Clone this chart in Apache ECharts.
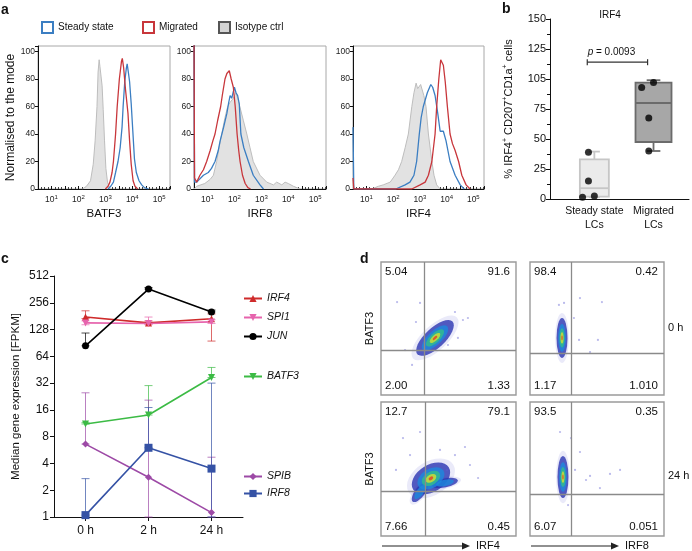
<!DOCTYPE html>
<html>
<head>
<meta charset="utf-8">
<script src="https://cdn.jsdelivr.net/npm/echarts@6/dist/echarts.min.js"></script>
<style>
  html, body { margin: 0; padding: 0; background: #fff; }
  #chart { width: 692px; height: 551px; }
</style>
</head>
<body>
<div id="chart"></div>
<script>
// ---- a: flow histograms, x = log10 fluorescence, y = % of mode
const histMarkers = ['BATF3', 'IRF8', 'IRF4'];
const isoBATF3 = [[2.15,0],[2.3,2],[2.45,6],[2.55,18],[2.62,35],[2.69,60],[2.73,85],[2.77,94],[2.8,89],[2.84,88],[2.88,75],[2.92,58],[2.97,35],[3.02,15],[3.08,5],[3.17,0]];
const steadyBATF3 = [[3.1,0],[3.2,2],[3.3,5],[3.38,12],[3.47,20],[3.55,30],[3.62,45],[3.66,60],[3.72,78],[3.78,88],[3.81,91],[3.86,84],[3.9,78],[3.96,62],[4.02,42],[4.08,22],[4.15,12],[4.25,6],[4.35,3],[4.45,1],[4.6,0]];
const migratedBATF3 = [[3.0,0],[3.1,2],[3.17,5],[3.25,12],[3.3,20],[3.38,40],[3.44,60],[3.52,80],[3.6,93],[3.63,95],[3.68,88],[3.75,72],[3.84,55],[3.9,35],[3.96,18],[4.03,6],[4.1,2],[4.2,0]];
const isoIRF8 = [[0.5,0],[0.6,2],[0.9,4],[1.1,7],[1.22,10],[1.34,20],[1.45,32],[1.53,40],[1.65,52],[1.75,60],[1.84,63],[1.96,66],[2.05,70],[2.12,66],[2.2,60],[2.33,50],[2.46,40],[2.58,30],[2.7,20],[2.95,10],[3.2,5],[3.45,3],[3.57,5],[3.76,3],[3.88,5],[4.0,4],[4.19,2],[4.44,0]];
const steadyIRF8 = [[0.5,110],[0.52,5],[0.6,5],[0.85,10],[1.03,12],[1.15,15],[1.28,20],[1.4,28],[1.47,35],[1.6,45],[1.72,55],[1.78,62],[1.84,68],[1.9,66],[2.0,74],[2.06,70],[2.12,68],[2.18,62],[2.24,40],[2.35,30],[2.52,20],[2.7,10],[2.95,3],[3.08,0]];
const migratedIRF8 = [[0.5,110],[0.52,8],[0.6,5],[0.72,10],[0.85,14],[0.97,20],[1.1,28],[1.2,35],[1.28,40],[1.38,50],[1.49,60],[1.55,68],[1.65,80],[1.72,84],[1.81,86],[1.88,80],[1.96,74],[2.03,60],[2.1,40],[2.16,28],[2.21,20],[2.3,10],[2.4,4],[2.5,1],[2.6,0]];
const isoIRF4 = [[1.2,0],[1.45,2],[1.63,3],[1.89,5],[2.0,8],[2.07,10],[2.2,14],[2.32,20],[2.45,30],[2.57,40],[2.7,60],[2.78,70],[2.86,77],[2.92,73],[2.97,72],[3.03,76],[3.07,75],[3.15,68],[3.23,60],[3.32,40],[3.45,20],[3.53,10],[3.63,3],[3.76,0]];
const steadyIRF4 = [[0.5,45],[0.53,0],[2.1,0],[2.14,1],[2.45,3],[2.63,5],[2.78,10],[2.88,20],[2.98,40],[3.05,52],[3.13,60],[3.28,70],[3.41,76],[3.48,74],[3.57,68],[3.67,55],[3.76,42],[3.82,43],[3.88,42],[3.98,35],[4.13,20],[4.32,10],[4.51,3],[4.66,0]];
const migratedIRF4 = [[0.5,8],[0.53,0],[2.7,0],[2.76,1],[3.01,3],[3.2,5],[3.32,10],[3.45,20],[3.57,40],[3.63,60],[3.71,80],[3.78,94],[3.83,92],[3.88,90],[3.95,78],[4.03,60],[4.13,40],[4.22,33],[4.32,28],[4.45,20],[4.57,10],[4.73,3],[4.88,0]];

// ---- b: IRF4+ percentages
const boxLabels = ['Steady state\nLCs', 'Migrated\nLCs'];
const steadyBox = [1.5, 2, 9, 33, 39.5];   // min, q1, median, q3, max
const migratedBox = [40, 47.5, 80, 97, 99];
const steadyDots = [[0.8, 1.5], [1.0, 2.5], [0.9, 15], [0.9, 39]];
const migratedDots = [[1.8, 93], [2.0, 97], [1.92, 67.5], [1.92, 40]];
const pBracket = [0.88, 1.9, 114];
const pLabel = '{i|p} = 0.0093';

// ---- c: median FPKM over time
const timePoints = ['0 h', '2 h', '24 h'];
const irf4Med = [177, 152, 169],  irf4Lo = [170, 148, 95],  irf4Hi = [208, 160, 192];
const spi1Med = [152, 150, 156],  spi1Lo = [145, 145, 150], spi1Hi = [160, 177, 165];
const junMed = [84, 365, 202],    junLo = [84, 365, 202],   junHi = [117, 380, 212];
const batf3Med = [11.1, 14, 37],  batf3Lo = [11.1, 14, 37], batf3Hi = [11.5, 30, 48];
const spibMed = [6.6, 2.8, 1.12], spibLo = [6.6, 1, 1],     spibHi = [24.9, 20.6, 4.7];
const irf8Med = [1.05, 6, 3.5],   irf8Lo = [1.05, 6, 1],    irf8Hi = [2.7, 17, 32];

// ---- d: BATF3 vs IRF4 / IRF8 density plots (display units 0-100)
const quadrantValues = [
  ['5.04', '91.6', '2.00', '1.33'],
  ['98.4', '0.42', '1.17', '1.010'],
  ['12.7', '79.1', '7.66', '0.45'],
  ['93.5', '0.35', '6.07', '0.051']
];
const gateX = [32, 30.6, 32.6, 30.6];
const gateY = [34, 31.6, 33.6, 31.3];
const cloud0hIRF4 = [[40, 42.9]];
const cloud0hIRF8 = [[23.9, 42.9]];
const cloud24hIRF4 = [[37, 43], [28.9, 32.8], [47.4, 39.6]];
const cloud24hIRF8 = [[24.6, 44]];
const sparse0hIRF4 = [[11.9,69.9],[28.9,69.2],[60.7,56.4],[54.8,62.4],[64.4,57.9],[25.9,54.9],[23,22.6],[49.6,37.6],[57,42.9],[17.8,33.8]];
const sparse0hIRF8 = [[37.3,72.9],[53.7,69.9],[50.7,41.4],[36.6,41.4],[25.4,69.2],[32.8,57.9],[21.6,67.7],[44.8,32.3]];
const sparse24hIRF4 = [[16.3,73.1],[28.9,77.6],[62.2,66.4],[71.9,43.3],[43.7,64.2],[54.8,60.4],[21.5,60.4],[65.9,53],[11.1,49.3],[48.9,49.3]];
const sparse24hIRF8 = [[22.4,77.6],[30.6,73.1],[37.3,62.7],[44.8,44.8],[59.7,46.3],[52.2,35.8],[41.8,41.8],[67.2,49.3],[33.6,49.3],[28.4,23.1]];

// ------------------------------------------------------------------
const FONT = '"Liberation Sans", Arial, Helvetica, sans-serif';
const STEADY = '#3b7ec2', MIGRATED = '#c8363b', ISO_FILL = '#e2e2e2', ISO_LINE = '#bdbdbd';
const ELLIPSE = 'path://M0,50A50,50,0,1,1,100,50A50,50,0,1,1,0,50Z';

const histGrids = [
  { left: 38, top: 46, width: 132, height: 143 },
  { left: 194, top: 46, width: 132, height: 143 },
  { left: 353, top: 46, width: 131, height: 143 }
];
const boxGrid = { left: 550, top: 19, width: 142, height: 180 };
const lineGrid = { left: 54, top: 276, width: 189, height: 241 };
const dGrids = [
  { left: 381, top: 262, width: 135, height: 133 },
  { left: 530, top: 262, width: 134, height: 133 },
  { left: 381, top: 402, width: 135, height: 134 },
  { left: 530, top: 402, width: 134, height: 134 }
];

const histSets = [
  [isoBATF3, steadyBATF3, migratedBATF3],
  [isoIRF8, steadyIRF8, migratedIRF8],
  [isoIRF4, steadyIRF4, migratedIRF4]
];

const geneRows = [
  { name: 'IRF4', med: irf4Med, lo: irf4Lo, hi: irf4Hi, color: '#cf2b2b', symbol: 'triangle', rot: 0 },
  { name: 'SPI1', med: spi1Med, lo: spi1Lo, hi: spi1Hi, color: '#e664ad', symbol: 'triangle', rot: 180 },
  { name: 'JUN', med: junMed, lo: junLo, hi: junHi, color: '#000000', symbol: 'circle', rot: 0 },
  { name: 'BATF3', med: batf3Med, lo: batf3Lo, hi: batf3Hi, color: '#3cbb45', symbol: 'triangle', rot: 180 },
  { name: 'SPIB', med: spibMed, lo: spibLo, hi: spibHi, color: '#9d4aa6', symbol: 'diamond', rot: 0 },
  { name: 'IRF8', med: irf8Med, lo: irf8Lo, hi: irf8Hi, color: '#3552a5', symbol: 'rect', rot: 0 }
];

const dPlots = [
  { cloud: cloud0hIRF4, sparse: sparse0hIRF4, shapes: [{ w: 48, h: 20, rot: 43, top: 5 }] },
  { cloud: cloud0hIRF8, sparse: sparse0hIRF8, shapes: [{ w: 11, h: 40, rot: 0, top: 5 }] },
  { cloud: cloud24hIRF4, sparse: sparse24hIRF4, shapes: [{ w: 42, h: 27, rot: 32, top: 5 }, { w: 24, h: 10, rot: 53, top: 2 }, { w: 26, h: 9, rot: 12, top: 2 }] },
  { cloud: cloud24hIRF8, sparse: sparse24hIRF8, shapes: [{ w: 11, h: 42, rot: 0, top: 5 }] }
];
const levelScale = [1.25, 1.0, 0.7, 0.48, 0.28, 0.12];
const levelColors = ['rgba(90,90,210,0.16)', '#2a34b2', '#1d88dc', '#33be8a', '#d6e030', '#e43c24'];

const noSplit = { show: false };
const blackLine = { show: true, lineStyle: { color: '#111', width: 1 } };
const isDecade = v => Math.abs(v - Math.round(v)) < 1e-6 && v >= 1;

const grids = [];
const xAxes = [];
const yAxes = [];
const series = [];

// ---- a
histGrids.forEach((g, i) => {
  grids.push(Object.assign({ show: true, borderColor: '#a8a8a8', borderWidth: 1, containLabel: false }, g));
  xAxes.push({
    gridIndex: i, type: 'value', min: 0.5, max: 5.4, interval: 0.5,
    axisLine: blackLine,
    axisTick: { show: true, inside: true, length: 3, lineStyle: { color: '#111' } },
    minorTick: { show: true, splitNumber: 4, length: 2, lineStyle: { color: '#444' } },
    splitLine: noSplit, minorSplitLine: noSplit,
    axisLabel: {
      fontSize: 8.5, color: '#222', margin: 5, fontFamily: FONT,
      formatter: v => isDecade(v) ? '10{s|' + Math.round(v) + '}' : '',
      rich: { s: { fontSize: 6, padding: [0, 0, 5, 0], color: '#222', fontFamily: FONT } }
    },
    name: histMarkers[i], nameLocation: 'middle', nameGap: 19,
    nameTextStyle: { fontSize: 11.5, color: '#111', fontFamily: FONT }
  });
  yAxes.push({
    gridIndex: i, type: 'value', min: 0, max: 104, interval: 20,
    axisLine: blackLine,
    axisTick: { show: true, length: 3, lineStyle: { color: '#111' } },
    splitLine: noSplit,
    axisLabel: { fontSize: 8.5, color: '#222', margin: 3, fontFamily: FONT, formatter: v => (v % 20 === 0 ? String(v) : '') },
    name: i === 0 ? 'Normalised to the mode' : '', nameLocation: 'middle', nameGap: 21,
    nameTextStyle: { fontSize: 12, color: '#111', fontFamily: FONT }
  });
  const [iso, steady, migrated] = histSets[i];
  series.push({
    name: 'Isotype ctrl', type: 'line', xAxisIndex: i, yAxisIndex: i, data: iso, symbol: 'none',
    lineStyle: { color: ISO_LINE, width: 1 }, areaStyle: { color: ISO_FILL, opacity: 1 }, itemStyle: { color: ISO_LINE }, z: 2
  });
  series.push({
    name: 'Steady state', type: 'line', xAxisIndex: i, yAxisIndex: i, data: steady, symbol: 'none',
    lineStyle: { color: STEADY, width: 1.3 }, itemStyle: { color: STEADY }, z: 3
  });
  series.push({
    name: 'Migrated', type: 'line', xAxisIndex: i, yAxisIndex: i, data: migrated, symbol: 'none',
    lineStyle: { color: MIGRATED, width: 1.3 }, itemStyle: { color: MIGRATED }, z: 4
  });
});

// ---- b
grids.push(Object.assign({ containLabel: false }, boxGrid));
xAxes.push({
  gridIndex: 3, type: 'value', min: 0.25, max: 2.6, interval: 0.25,
  axisLine: blackLine, axisTick: { show: false }, splitLine: noSplit,
  axisLabel: {
    fontSize: 10.5, lineHeight: 14, color: '#111', margin: 5, fontFamily: FONT,
    formatter: v => Math.abs(v - 1) < 1e-6 ? boxLabels[0] : (Math.abs(v - 2) < 1e-6 ? boxLabels[1] : '')
  }
});
yAxes.push({
  gridIndex: 3, type: 'value', min: 0, max: 150, interval: 25,
  axisLine: blackLine,
  axisTick: { show: true, length: 4, lineStyle: { color: '#111' } },
  minorTick: { show: true, splitNumber: 2, length: 3, lineStyle: { color: '#111' } },
  splitLine: noSplit, minorSplitLine: noSplit,
  axisLabel: { fontSize: 11, color: '#111', margin: 4, fontFamily: FONT, formatter: v => (v === 100 ? '105' : String(v)) },
  name: '% IRF4{s|+} CD207{s|+}CD1a{s|+} cells', nameLocation: 'middle', nameGap: 35,
  nameTextStyle: { fontSize: 11, color: '#111', fontFamily: FONT, rich: { s: { fontSize: 7, padding: [0, 0, 6, 0], fontFamily: FONT, color: '#111' } } }
});
const boxFill = ['#ebebeb', '#a7a7a7'];
const boxStroke = ['#c6c6c6', '#6b6b6b'];
const boxWidthPx = [29, 36];
series.push({
  type: 'custom', xAxisIndex: 3, yAxisIndex: 3, z: 2, silent: true,
  data: [[1].concat(steadyBox), [2].concat(migratedBox)],
  encode: { x: 0, y: [1, 2, 3, 4, 5] },
  renderItem: (params, api) => {
    const k = params.dataIndex;
    const x = api.value(0);
    const p = [1, 2, 3, 4, 5].map(j => api.coord([x, api.value(j)]));
    const cx = p[0][0], hw = boxWidthPx[k] / 2, cap = hw * 0.38;
    const st = { stroke: boxStroke[k], lineWidth: 1.8, fill: null };
    return {
      type: 'group', children: [
        { type: 'line', shape: { x1: cx, y1: p[4][1], x2: cx, y2: p[3][1] }, style: st },
        { type: 'line', shape: { x1: cx, y1: p[0][1], x2: cx, y2: p[1][1] }, style: st },
        { type: 'line', shape: { x1: cx - cap, y1: p[4][1], x2: cx + cap, y2: p[4][1] }, style: st },
        { type: 'line', shape: { x1: cx - cap, y1: p[0][1], x2: cx + cap, y2: p[0][1] }, style: st },
        { type: 'rect', shape: { x: cx - hw, y: p[3][1], width: 2 * hw, height: p[1][1] - p[3][1] }, style: { fill: boxFill[k], stroke: boxStroke[k], lineWidth: 1.8 } },
        { type: 'line', shape: { x1: cx - hw, y1: p[2][1], x2: cx + hw, y2: p[2][1] }, style: st }
      ]
    };
  }
});
series.push({
  type: 'scatter', xAxisIndex: 3, yAxisIndex: 3, z: 5, silent: true,
  data: steadyDots.concat(migratedDots), symbolSize: 7, itemStyle: { color: '#000' }
});
series.push({
  type: 'custom', xAxisIndex: 3, yAxisIndex: 3, z: 5, silent: true,
  data: [pBracket], encode: { x: [0, 1], y: 2 },
  renderItem: (params, api) => {
    const a = api.coord([api.value(0), api.value(2)]);
    const b = api.coord([api.value(1), api.value(2)]);
    const st = { stroke: '#333', lineWidth: 1.2 };
    return {
      type: 'group', children: [
        { type: 'line', shape: { x1: a[0], y1: a[1], x2: b[0], y2: b[1] }, style: st },
        { type: 'line', shape: { x1: a[0], y1: a[1] - 3, x2: a[0], y2: a[1] + 3 }, style: st },
        { type: 'line', shape: { x1: b[0], y1: b[1] - 3, x2: b[0], y2: b[1] + 3 }, style: st },
        {
          type: 'text', x: (a[0] + b[0]) / 2 - 6, y: a[1] - 10,
          style: {
            text: pLabel, align: 'center', verticalAlign: 'middle', fontSize: 10, fontFamily: FONT, fill: '#111',
            rich: { i: { fontStyle: 'italic', fontSize: 10, fontFamily: FONT, fill: '#111' } }
          }
        }
      ]
    };
  }
});

// ---- c
grids.push(Object.assign({ containLabel: false }, lineGrid));
xAxes.push({
  gridIndex: 4, type: 'category', data: timePoints, boundaryGap: true,
  axisLine: blackLine,
  axisTick: { show: true, alignWithLabel: true, length: 4, lineStyle: { color: '#111' } },
  splitLine: noSplit,
  axisLabel: { fontSize: 12, color: '#111', margin: 8, fontFamily: FONT }
});
yAxes.push({
  gridIndex: 4, type: 'log', logBase: 2, min: 1, max: 512, splitNumber: 9,
  axisLine: blackLine,
  axisTick: { show: true, length: 4, lineStyle: { color: '#111' } },
  splitLine: noSplit,
  axisLabel: { fontSize: 12, color: '#111', margin: 5, fontFamily: FONT, formatter: v => String(Math.round(v)) },
  name: 'Median gene expression [FPKM]', nameLocation: 'middle', nameGap: 32,
  nameTextStyle: { fontSize: 11.5, color: '#111', fontFamily: FONT }
});
geneRows.forEach(g => {
  series.push({
    type: 'custom', xAxisIndex: 4, yAxisIndex: 4, z: 2, silent: true,
    data: g.lo.map((lo, i) => [i, lo, g.hi[i]]),
    encode: { x: 0, y: [1, 2] },
    renderItem: (params, api) => {
      const x = api.value(0);
      const top = api.coord([x, api.value(2)]);
      const bot = api.coord([x, api.value(1)]);
      const st = { stroke: g.color, lineWidth: 1, opacity: 0.7 };
      return {
        type: 'group', children: [
          { type: 'line', shape: { x1: top[0], y1: top[1], x2: bot[0], y2: bot[1] }, style: st },
          { type: 'line', shape: { x1: top[0] - 4, y1: top[1], x2: top[0] + 4, y2: top[1] }, style: st },
          { type: 'line', shape: { x1: bot[0] - 4, y1: bot[1], x2: bot[0] + 4, y2: bot[1] }, style: st }
        ]
      };
    }
  });
  series.push({
    name: g.name, type: 'line', xAxisIndex: 4, yAxisIndex: 4, z: 4, data: g.med,
    symbol: g.symbol, symbolRotate: g.rot, symbolSize: g.symbol === 'rect' ? 8 : 7,
    lineStyle: { color: g.color, width: 1.6 }, itemStyle: { color: g.color }
  });
});

// ---- d
dGrids.forEach((g, k) => {
  const gi = 5 + k;
  grids.push(Object.assign({ show: true, borderColor: '#9a9a9a', borderWidth: 1.4, containLabel: false }, g));
  xAxes.push({ gridIndex: gi, type: 'value', min: 0, max: 100, show: false });
  yAxes.push({
    gridIndex: gi, type: 'value', min: 0, max: 100,
    axisLine: { show: false }, axisTick: { show: false }, axisLabel: { show: false }, splitLine: noSplit,
    name: k % 2 === 0 ? 'BATF3' : '', nameLocation: 'middle', nameGap: 6,
    nameTextStyle: { fontSize: 11, color: '#111', fontFamily: FONT }
  });
  const p = dPlots[k];
  const items = [];
  levelScale.forEach((s, L) => {
    p.cloud.forEach((c, b) => {
      const sh = p.shapes[b];
      if (L > sh.top) return;
      items.push({ value: c, symbolSize: [sh.w * s, sh.h * s], symbolRotate: sh.rot, itemStyle: { color: levelColors[L] } });
    });
  });
  series.push({
    type: 'scatter', xAxisIndex: gi, yAxisIndex: gi, z: 3, silent: true,
    symbol: ELLIPSE, data: items
  });
  series.push({
    type: 'scatter', xAxisIndex: gi, yAxisIndex: gi, z: 4, silent: true,
    data: p.sparse, symbolSize: 2.2, itemStyle: { color: 'rgba(95,95,210,0.55)' },
    markLine: {
      silent: true, symbol: ['none', 'none'], label: { show: false },
      lineStyle: { color: '#8a8a8a', width: 1.3, type: 'solid' },
      data: [{ xAxis: gateX[k] }, { yAxis: gateY[k] }]
    }
  });
});

// ---- text and arrows around the panels
const txt = (text, x, y, opts) => ({
  type: 'text', x: x, y: y, silent: true,
  style: Object.assign({ text: text, fontFamily: FONT, fontSize: 11, fill: '#111', align: 'left', verticalAlign: 'top' }, opts || {})
});
const graphics = [
  txt('a', 1, 3, { fontSize: 14, fontWeight: 'bold' }),
  txt('b', 502, 2, { fontSize: 14, fontWeight: 'bold' }),
  txt('c', 1, 252, { fontSize: 14, fontWeight: 'bold' }),
  txt('d', 360, 252, { fontSize: 14, fontWeight: 'bold' }),
  txt('IRF4', boxGrid.left + 60, 10, { fontSize: 10, align: 'center' })
];
dGrids.forEach((g, k) => {
  const q = quadrantValues[k];
  const r = g.left + g.width, b = g.top + g.height;
  graphics.push(txt(q[0], g.left + 4, g.top + 4, { fontSize: 11.5 }));
  graphics.push(txt(q[1], r - 6, g.top + 4, { fontSize: 11.5, align: 'right' }));
  graphics.push(txt(q[2], g.left + 4, b - 3, { fontSize: 11.5, verticalAlign: 'bottom' }));
  graphics.push(txt(q[3], r - 6, b - 3, { fontSize: 11.5, align: 'right', verticalAlign: 'bottom' }));
});
graphics.push(txt('0 h', dGrids[1].left + dGrids[1].width + 4, dGrids[1].top + 66, { verticalAlign: 'middle' }));
graphics.push(txt('24 h', dGrids[3].left + dGrids[3].width + 4, dGrids[3].top + 74, { verticalAlign: 'middle' }));
['IRF4', 'IRF8'].forEach((name, j) => {
  const g = dGrids[2 + j];
  const y = g.top + g.height + 10;
  const x0 = g.left + 1, x1 = g.left + 89;
  graphics.push({ type: 'line', silent: true, shape: { x1: x0, y1: y, x2: x1 - 6, y2: y }, style: { stroke: '#222', lineWidth: 1.2 } });
  graphics.push({ type: 'polygon', silent: true, shape: { points: [[x1 - 8, y - 3.5], [x1, y], [x1 - 8, y + 3.5]] }, style: { fill: '#222' } });
  graphics.push(txt(name, x1 + 6, y, { verticalAlign: 'middle', fontSize: 11 }));
});

// legends
const legendText = { fontSize: 10, color: '#111', fontFamily: FONT };
const histLegend = (name, left, fill, stroke) => ({
  left: left, top: 21, padding: 0, itemWidth: 11, itemHeight: 11, selectedMode: false,
  textStyle: legendText,
  data: [{ name: name, icon: 'rect', itemStyle: { color: fill, borderColor: stroke, borderWidth: 2 } }]
});
const geneLegend = (names, top, gap) => ({
  left: 243, top: top, padding: 0, orient: 'vertical', itemGap: gap, itemWidth: 18, itemHeight: 9, selectedMode: false,
  textStyle: { fontSize: 10.5, fontStyle: 'italic', color: '#111', fontFamily: FONT },
  data: names
});

const option = {
  animation: false,
  backgroundColor: '#fff',
  textStyle: { fontFamily: FONT },
  grid: grids,
  xAxis: xAxes,
  yAxis: yAxes,
  legend: [
    histLegend('Steady state', 41, '#fff', STEADY),
    histLegend('Migrated', 142, '#fff', MIGRATED),
    histLegend('Isotype ctrl', 218, '#d4d4d4', '#555'),
    geneLegend(['IRF4', 'SPI1', 'JUN'], 293, 8),
    geneLegend(['BATF3'], 371, 8),
    geneLegend(['SPIB', 'IRF8'], 471, 6)
  ],
  graphic: graphics,
  series: series
};

const chart = echarts.init(document.getElementById('chart'));
chart.setOption(option);
window.addEventListener('resize', () => chart.resize());
</script>
</body>
</html>
